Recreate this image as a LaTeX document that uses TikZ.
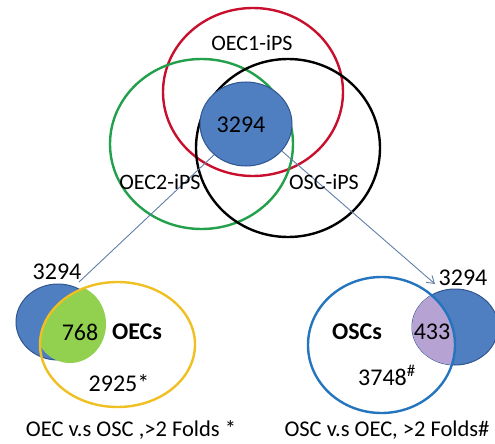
\documentclass[tikz,border=0pt]{standalone}
\usepackage{fontspec}
\setmainfont{Carlito}
\usetikzlibrary{shapes.geometric,arrows.meta}
\definecolor{vred}{HTML}{C8102E}
\definecolor{vgreen}{HTML}{22A04B}
\definecolor{vblue}{HTML}{4F7FC1}
\definecolor{vblueline}{HTML}{30558F}
\definecolor{lgreen}{HTML}{92D050}
\definecolor{lpurple}{HTML}{B7A3D3}
\definecolor{vyellow}{HTML}{F0BF22}
\definecolor{ringblue}{HTML}{2474BE}
\definecolor{arrowc}{HTML}{5F7FA8}
\tikzset{
  ring/.style={ellipse, draw, line width=2.4pt, inner sep=0pt},
  blob/.style={ellipse, fill=vblue, draw=vblueline, line width=1pt, inner sep=0pt},
  lab/.style={font=\fontsize{22}{26}\selectfont, inner sep=0pt},
  boldlab/.style={font=\fontsize{24}{28}\selectfont\bfseries, inner sep=0pt},
  num/.style={font=\fontsize{24}{28}\selectfont, inner sep=0pt},
  captext/.style={font=\fontsize{22.5}{26}\selectfont, inner sep=0pt},
  link/.style={draw=arrowc, line width=0.9pt},
}
\begin{document}
\begin{tikzpicture}[x=1pt,y=-1pt]
\useasboundingbox (0,0) rectangle (495,444);
% top Venn
\node[ring, draw=vred, minimum width=180pt, minimum height=168pt] (oec1) at (253,92) {};
\node[ring, draw=vgreen, minimum width=183pt, minimum height=170pt] (oec2) at (201.5,144) {};
\node[ring, draw=black, minimum width=184pt, minimum height=178pt] (osc) at (288,148) {};
% connectors (behind center blob)
\node[blob, minimum width=84pt, minimum height=76pt] (lb) at (58,322) {};
\node[blob, minimum width=86pt, minimum height=76pt] (rb) at (455,327) {};
\coordinate (lend) at (79,282);
\coordinate (rend) at (435,284);
\node[blob, minimum width=92pt, minimum height=84pt] (core) at (246,124) {};
\draw[link] (core.224) -- (lend);
\draw[link, -{Straight Barb[length=7pt,width=9pt]}] (core.-37) -- (rend);
\node[num] (n3294) at (241,125) {3294};
\node[lab] (l1) at (252,43) {OEC1-iPS};
\node[lab] (l2) at (160,182) {OEC2-iPS};
\node[lab] (l3) at (324,182) {OSC-iPS};
% bottom left
\begin{scope}
  \clip (117.5,344.5) ellipse (77.5 and 62.5);
  \fill[lgreen] (70,324) ellipse (36 and 39);
\end{scope}
\node[ring, draw=vyellow, minimum width=155pt, minimum height=125pt] (oecs) at (117.5,344.5) {};
\node[num] (t1) at (57,272) {3294};
\node[num] (t2) at (80,332) {768};
\node[boldlab] (t3) at (137,332) {OECs};
\node[num] (t4) at (119,383) {2925*};
\node[captext] (c1) at (131,430) {OEC v.s OSC ,>2 Folds *};
% bottom right
\begin{scope}
  \clip (381.5,345) ellipse (73.5 and 68);
  \fill[lpurple] (455,327) ellipse (43 and 38);
\end{scope}
\node[ring, draw=ringblue, minimum width=147pt, minimum height=136pt] (oscs) at (381.5,345) {};
\node[num] (s1) at (463,278) {3294};
\node[num] (s2) at (432,332) {433};
\node[boldlab] (s3) at (357,332) {OSCs};
\node[num] (s4) at (387,375) {3748\textsuperscript{\#}};
\node[captext] (c2) at (387,430) {OSC v.s OEC, >2 Folds\#};
\end{tikzpicture}
\end{document}
